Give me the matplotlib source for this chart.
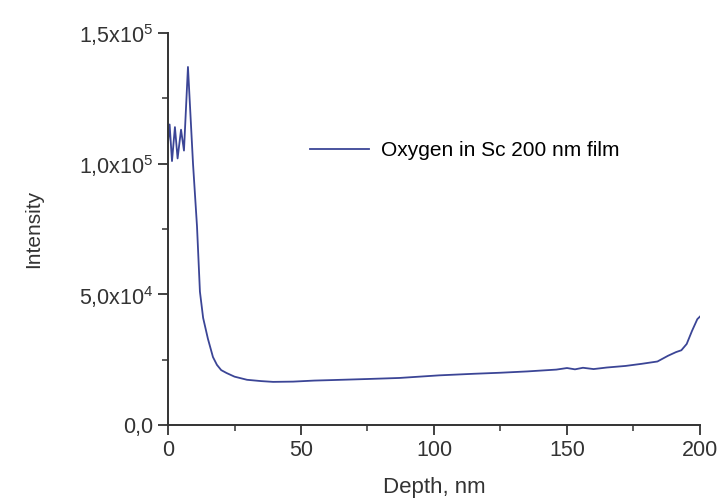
import numpy as np
import matplotlib
matplotlib.use('Agg')
from matplotlib import pyplot as plt
from matplotlib.ticker import FixedLocator, MultipleLocator

plt.rcParams['font.family'] = ['Liberation Sans', 'DejaVu Sans']
plt.rcParams['mathtext.fontset'] = 'custom'
plt.rcParams['mathtext.rm'] = 'Liberation Sans'
plt.rcParams['mathtext.it'] = 'Liberation Sans'

# depth (nm) and oxygen intensity
depth = [0, 0.6, 1.5, 2.6, 3.6, 4.9, 6.0, 7.5, 9.4, 10.9, 12.0, 13.2, 15.0,
         16.9, 18.4, 20, 22, 25, 29.7, 35, 39.5, 47, 55, 62, 75, 87, 102,
         115, 125, 135, 146, 150, 153, 156, 160, 165, 172, 178, 184, 188,
         191, 193, 195, 197, 199, 200]
intensity = [108e3, 115e3, 101e3, 114e3, 102e3, 113e3, 105e3, 137e3, 100e3,
             76e3, 51e3, 41e3, 33e3, 26e3, 23e3, 21e3, 19.9e3, 18.5e3,
             17.3e3, 16.8e3, 16.5e3, 16.6e3, 17.0e3, 17.2e3, 17.6e3, 18.0e3,
             19.0e3, 19.6e3, 20.0e3, 20.5e3, 21.2e3, 21.8e3, 21.3e3, 21.9e3,
             21.4e3, 22.0e3, 22.6e3, 23.4e3, 24.3e3, 26.5e3, 27.9e3, 28.6e3,
             31e3, 36e3, 40.5e3, 41.5e3]

y_ticks = [0, 5e4, 1e5, 1.5e5]
y_labels = ['0,0', r'5,0x10$^4$', r'1,0x10$^5$', r'1,5x10$^5$']
x_ticks = [0, 50, 100, 150, 200]

fig = plt.figure(figsize=(7.22, 5), dpi=100)
ax = fig.add_axes([0.2327, 0.15, 0.7368, 0.784])

ax.plot(depth, intensity, color='#3b4596', lw=1.3,
        label='Oxygen in Sc 200 nm film')

ax.set_xlim(0, 200)
ax.set_ylim(0, 1.5e5)
ax.xaxis.set_major_locator(FixedLocator(x_ticks))
ax.xaxis.set_minor_locator(MultipleLocator(25))
ax.yaxis.set_major_locator(FixedLocator(y_ticks))
ax.yaxis.set_minor_locator(MultipleLocator(2.5e4))
ax.set_yticklabels(y_labels)

for s in ['top', 'right']:
    ax.spines[s].set_visible(False)
for s in ['left', 'bottom']:
    ax.spines[s].set_linewidth(1.4)
    ax.spines[s].set_color('#333333')

ax.tick_params(which='major', length=7, width=1.3, colors='#333333',
               labelsize=15.5, direction='out')
ax.tick_params(which='minor', length=4, width=1.1, colors='#333333',
               direction='out')

ax.set_xlabel('Depth, nm', fontsize=16, color='#333333', labelpad=12)
ax.set_ylabel('Intensity', fontsize=15, color='#333333', labelpad=26)

ax.legend(loc='upper left', bbox_to_anchor=(0.232, 0.772), frameon=False,
          fontsize=15, handlelength=2.8, handletextpad=0.6)

plt.savefig('out.png', dpi=100)
